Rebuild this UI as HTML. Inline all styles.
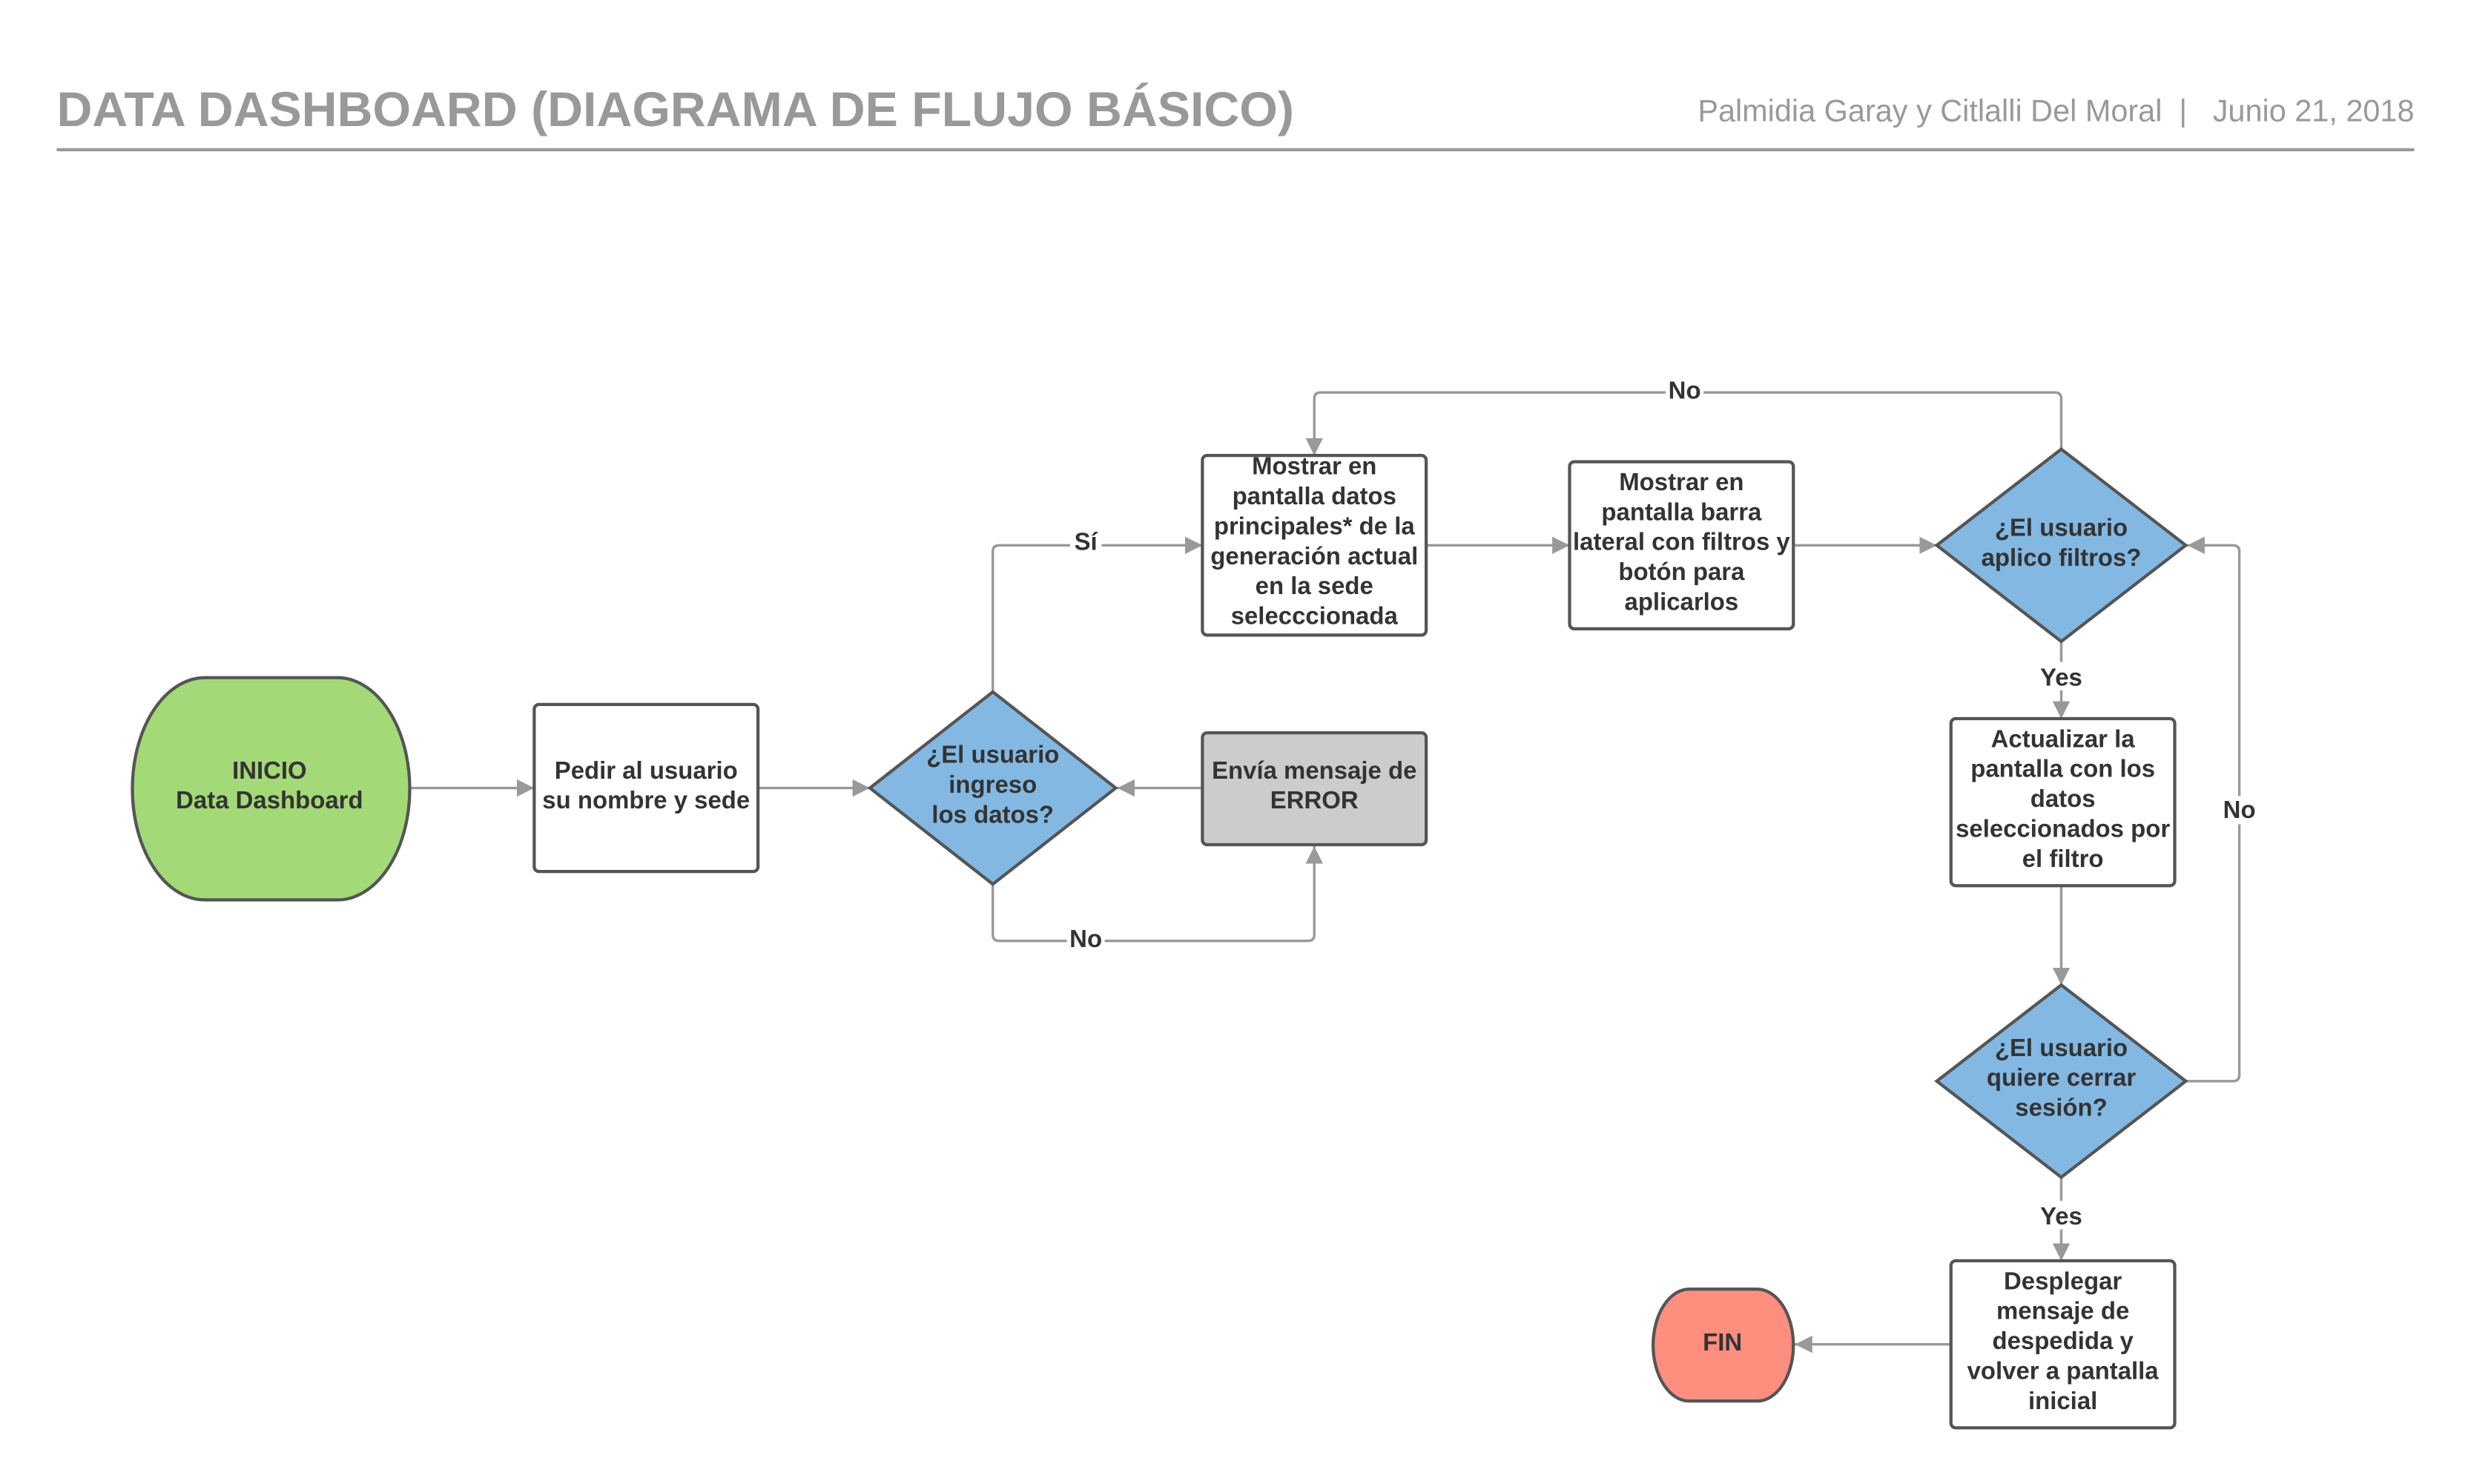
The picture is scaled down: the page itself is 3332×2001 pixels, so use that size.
<!DOCTYPE html>
<html><head><meta charset="utf-8"><style>
html,body{margin:0;padding:0;background:#fff;}
svg{display:block;}
text{font-family:"Liberation Sans",sans-serif;}
.t{font-size:15.5px;font-weight:bold;fill:#333;text-anchor:middle;}
.l{font-size:15.5px;font-weight:bold;fill:#333;text-anchor:middle;}
.c{fill:none;stroke:#999;stroke-width:1.6;}
.s{stroke:#555;stroke-width:2;}
</style></head><body>
<svg width="3332" height="2001" viewBox="0 0 1568 941.6" xmlns="http://www.w3.org/2000/svg">
<defs><marker id="a" viewBox="0 0 10 10" refX="10" refY="5" markerWidth="11" markerHeight="11" markerUnits="userSpaceOnUse" orient="auto"><path d="M0,0 L10,5 L0,10 z" fill="#999"/></marker></defs>
<text x="36" y="80" style="font-size:31.2px;font-weight:bold;fill:#999">DATA DASHBOARD (DIAGRAMA DE FLUJO BÁSICO)</text>
<text x="1532" y="77" text-anchor="end" style="font-size:19.5px;fill:#999" xml:space="preserve">Palmidia Garay y Citlalli Del Moral  |   Junio 21, 2018</text>
<line x1="36" y1="95" x2="1532" y2="95" stroke="#999" stroke-width="2"/>

<!-- connectors -->
<path class="c" d="M260,500 H339" marker-end="url(#a)"/>
<path class="c" d="M481,500 H552" marker-end="url(#a)"/>
<path class="c" d="M763,500 H709" marker-end="url(#a)"/>
<path class="c" d="M630,439 V350 Q630,346 634,346 H763" marker-end="url(#a)"/>
<path class="c" d="M630,561 V593 Q630,597 634,597 H830 Q834,597 834,593 V537" marker-end="url(#a)"/>
<path class="c" d="M905,346 H996" marker-end="url(#a)"/>
<path class="c" d="M1138,346 H1229" marker-end="url(#a)"/>
<path class="c" d="M1308,285 V253 Q1308,249 1304,249 H838 Q834,249 834,253 V289" marker-end="url(#a)"/>
<path class="c" d="M1308,407 V456" marker-end="url(#a)"/>
<path class="c" d="M1308,562 V625" marker-end="url(#a)"/>
<path class="c" d="M1308,747 V800" marker-end="url(#a)"/>
<path class="c" d="M1387,686 H1417 Q1421,686 1421,682 V350 Q1421,346 1417,346 H1388" marker-end="url(#a)"/>
<path class="c" d="M1238,853 H1139" marker-end="url(#a)"/>

<!-- labels -->
<rect x="679" y="335" width="20" height="18" fill="#fff"/><text class="l" x="689" y="349">Sí</text>
<rect x="677" y="587" width="24" height="18" fill="#fff"/><text class="l" x="689" y="601">No</text>
<rect x="1057" y="239" width="24" height="18" fill="#fff"/><text class="l" x="1069" y="253">No</text>
<rect x="1292" y="420" width="32" height="18" fill="#fff"/><text class="l" x="1308" y="435">Yes</text>
<rect x="1292" y="762" width="32" height="18" fill="#fff"/><text class="l" x="1308" y="777">Yes</text>
<rect x="1409" y="505" width="24" height="18" fill="#fff"/><text class="l" x="1421" y="519">No</text>

<!-- shapes -->
<path class="s" fill="#a3d977" d="M130,430 H214 A46,70.5 0 0 1 214,571 H130 A46,70.5 0 0 1 130,430 Z"/>
<text class="t" x="171" y="494">INICIO</text><text class="t" x="171" y="513">Data Dashboard</text>

<rect class="s" fill="#fff" x="339" y="447" width="142" height="106" rx="3"/>
<text class="t" x="410" y="494">Pedir al usuario</text><text class="t" x="410" y="513">su nombre y sede</text>

<path class="s" fill="#83b8e3" d="M630,439 L708,500 L630,561 L552,500 Z"/>
<text class="t" x="630" y="484">¿El usuario</text><text class="t" x="630" y="503">ingreso</text><text class="t" x="630" y="522">los datos?</text>

<rect class="s" fill="#ccc" x="763" y="465" width="142" height="71" rx="3"/>
<text class="t" x="834" y="494">Envía mensaje de</text><text class="t" x="834" y="513">ERROR</text>

<rect class="s" fill="#fff" x="763" y="289" width="142" height="114" rx="3"/>
<text class="t" x="834" y="301">Mostrar en</text><text class="t" x="834" y="320">pantalla datos</text><text class="t" x="834" y="339">principales* de la</text><text class="t" x="834" y="358">generación actual</text><text class="t" x="834" y="377">en la sede</text><text class="t" x="834" y="396">selecccionada</text>

<rect class="s" fill="#fff" x="996" y="293" width="142" height="106" rx="3"/>
<text class="t" x="1067" y="311">Mostrar en</text><text class="t" x="1067" y="330">pantalla barra</text><text class="t" x="1067" y="349">lateral con filtros y</text><text class="t" x="1067" y="368">botón para</text><text class="t" x="1067" y="387">aplicarlos</text>

<path class="s" fill="#83b8e3" d="M1308,285 L1387,346 L1308,407 L1229,346 Z"/>
<text class="t" x="1308" y="340">¿El usuario</text><text class="t" x="1308" y="359">aplico filtros?</text>

<rect class="s" fill="#fff" x="1238" y="456" width="142" height="106" rx="3"/>
<text class="t" x="1309" y="474">Actualizar la</text><text class="t" x="1309" y="493">pantalla con los</text><text class="t" x="1309" y="512">datos</text><text class="t" x="1309" y="531">seleccionados por</text><text class="t" x="1309" y="550">el filtro</text>

<path class="s" fill="#83b8e3" d="M1308,625 L1387,686 L1308,747 L1229,686 Z"/>
<text class="t" x="1308" y="670">¿El usuario</text><text class="t" x="1308" y="689">quiere cerrar</text><text class="t" x="1308" y="708">sesión?</text>

<rect class="s" fill="#fff" x="1238" y="800" width="142" height="106" rx="3"/>
<text class="t" x="1309" y="818">Desplegar</text><text class="t" x="1309" y="837">mensaje de</text><text class="t" x="1309" y="856">despedida y</text><text class="t" x="1309" y="875">volver a pantalla</text><text class="t" x="1309" y="894">inicial</text>

<path class="s" fill="#fe8e7e" d="M1072,818 H1115 A23,35.5 0 0 1 1115,889 H1072 A23,35.5 0 0 1 1072,818 Z"/>
<text class="t" x="1093" y="857">FIN</text>
</svg>
</body></html>
